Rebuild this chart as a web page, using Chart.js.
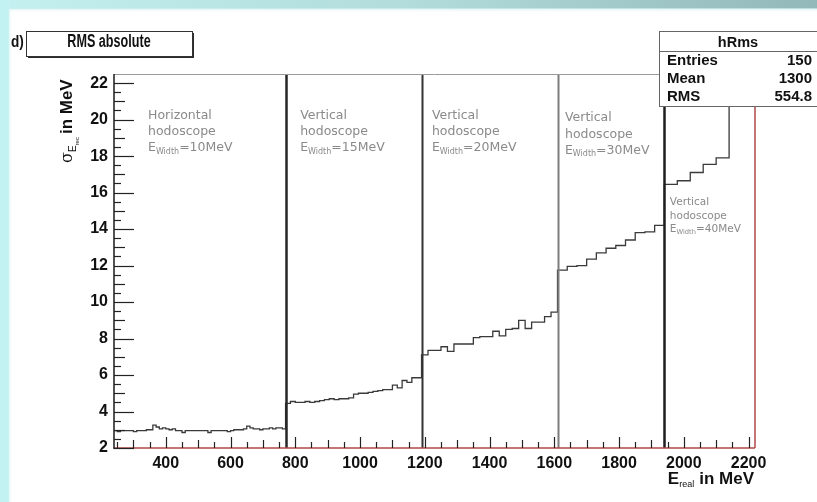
<!DOCTYPE html>
<html>
<head>
<meta charset="utf-8">
<script src="https://cdn.jsdelivr.net/npm/chart.js@4.4.1/dist/chart.umd.min.js"></script>
<style>
  html, body { margin: 0; padding: 0; background: #fff; overflow: hidden; }
  canvas { display: block; }
</style>
</head>
<body>
<canvas id="c" width="817" height="502"></canvas>
<script>
// hRms: RMS of the reconstructed energy (MeV) versus the true energy (MeV).
// The energy range is split into hodoscope regions, each with its own bin width.
const regionStart = [240, 770, 1190, 1610, 1940, 2140];
const regionWidth = [10, 15, 20, 30, 40, 40];
const regionName = ['Horizontal', 'Vertical', 'Vertical', 'Vertical', 'Vertical'];

const rmsHorizontal10 = [
  2.95, 2.9, 2.95, 2.95, 2.95, 2.95, 2.9, 2.95, 2.95, 2.95,
  3.0, 3.0, 3.25, 3.15, 3.05, 3.1, 3.05, 3.0, 3.05, 2.95,
  2.95, 2.85, 2.95, 2.95, 2.95, 2.95, 2.95, 2.95, 2.95, 2.85,
  2.95, 2.95, 2.95, 2.95, 2.95, 2.9, 2.95, 3.0, 3.0, 3.0,
  3.05, 3.2, 3.1, 3.05, 3.05, 3.0, 3.05, 3.05, 3.1, 3.05,
  3.1, 3.1, 3.05
];
const rmsVertical15 = [
  4.45, 4.55, 4.5, 4.5, 4.55, 4.5, 4.55,
  4.6, 4.65, 4.7, 4.65, 4.7, 4.7, 4.75,
  4.95, 5.0, 5.0, 5.05,
  5.1, 5.15, 5.2, 5.2,
  5.45, 5.3, 5.7, 5.6, 5.85, 5.85
];
const rmsVertical20 = [
  7.1, 7.35, 7.35, 7.55, 7.3, 7.7, 7.7, 7.7, 8.05, 8.1,
  8.1, 8.4, 8.15, 8.5, 8.55, 9.0, 8.55, 8.9, 8.9, 9.2, 9.45
];
const rmsVertical30 = [11.75, 11.95, 12.0, 12.35, 12.7, 12.95, 13.1, 13.4, 13.8, 13.85, 14.2];
const rmsVertical40 = [16.45, 16.65, 17.1, 17.55, 17.9];
const rmsAboveRange = [25.0, 28.0];

const xTickLabels = [400, 600, 800, 1000, 1200, 1400, 1600, 1800, 2000, 2200];
const yTickLabels = [2, 4, 6, 8, 10, 12, 14, 16, 18, 20, 22];

const statNames = ['Entries', 'Mean', 'RMS'];
const statValues = ['150', '1300', '554.8'];

// ---- histogram as a step line: one point per bin low edge, plus the last upper edge
const regionValues = [rmsHorizontal10, rmsVertical15, rmsVertical20, rmsVertical30, rmsVertical40, rmsAboveRange];
const histPoints = [];
regionValues.forEach((vals, r) => {
  vals.forEach((v, i) => histPoints.push({ x: regionStart[r] + i * regionWidth[r], y: v }));
});
{
  const r = regionValues.length - 1;
  const vals = regionValues[r];
  histPoints.push({ x: regionStart[r] + vals.length * regionWidth[r], y: vals[vals.length - 1] });
}
// separators sit at the start of every region after the first (the last one is the overflow tail)
const separators = regionStart.slice(1, 5);

// ---- styling
const sepStyle = [
  { color: '#262626', width: 2.5 },
  { color: '#333333', width: 2 },
  { color: '#7d7d7d', width: 2 },
  { color: '#1e1e1e', width: 2.5 }
];
// where the region notes sit, in axis units (x in MeV, y = first baseline in MeV)
const notePlace = [
  { x: 345, y: 20.05, size: 12.5, lead: 16.3 },
  { x: 815, y: 20.05, size: 12.5, lead: 16.3 },
  { x: 1222, y: 20.05, size: 12.5, lead: 16.3 },
  { x: 1633, y: 19.9, size: 12.5, lead: 16.3 },
  { x: 1957, y: 15.3, size: 10.5, lead: 13.5 }
];

function runs(ctx, x, y, parts) {
  // draws consecutive text pieces (with baseline shifts) starting at x
  let cx = x;
  parts.forEach(p => {
    ctx.font = p.font;
    ctx.fillText(p.t, cx, y + (p.dy || 0));
    cx += ctx.measureText(p.t).width + (p.gap || 0);
  });
  return cx;
}

const rootDecor = {
  id: 'rootDecor',
  beforeDraw(chart) {
    const ctx = chart.ctx;
    ctx.save();
    ctx.fillStyle = '#ffffff';
    ctx.fillRect(0, 0, chart.width, chart.height);
    // slide border: cyan band on the top and on the left
    const gTop = ctx.createLinearGradient(0, 0, chart.width, 0);
    gTop.addColorStop(0, '#c4f0f0');
    gTop.addColorStop(0.5, '#b2dcdc');
    gTop.addColorStop(1, '#93b8b9');
    ctx.fillStyle = gTop;
    ctx.fillRect(0, 0, chart.width, 9);
    const gTopFade = ctx.createLinearGradient(0, 8, 0, 13);
    gTopFade.addColorStop(0, 'rgba(200,235,235,0.8)');
    gTopFade.addColorStop(1, 'rgba(255,255,255,0)');
    ctx.fillStyle = gTopFade;
    ctx.fillRect(0, 8, chart.width, 5);
    ctx.fillStyle = '#c3f2f2';
    ctx.fillRect(0, 0, 9, chart.height);
    const gLeftFade = ctx.createLinearGradient(8, 0, 13, 0);
    gLeftFade.addColorStop(0, 'rgba(200,240,240,0.8)');
    gLeftFade.addColorStop(1, 'rgba(255,255,255,0)');
    ctx.fillStyle = gLeftFade;
    ctx.fillRect(8, 9, 5, chart.height);
    ctx.restore();
  },
  afterDatasetsDraw(chart) {
    const { ctx, chartArea: a, scales: { x, y } } = chart;
    const line = (x1, y1, x2, y2) => { ctx.beginPath(); ctx.moveTo(x1, y1); ctx.lineTo(x2, y2); ctx.stroke(); };
    ctx.save();

    // region separators
    separators.forEach((e, i) => {
      const px = Math.round(x.getPixelForValue(e)) + 0.5;
      ctx.strokeStyle = sepStyle[i].color;
      ctx.lineWidth = sepStyle[i].width;
      line(px, a.top, px, a.bottom);
    });

    // frame
    ctx.lineWidth = 1;
    ctx.strokeStyle = '#9a9a9a';
    line(a.left, a.top + 0.5, a.right, a.top + 0.5);
    ctx.strokeStyle = '#b04848';
    ctx.lineWidth = 1.5;
    line(a.right, a.top, a.right, a.bottom);
    line(a.left, a.bottom, a.right, a.bottom);
    ctx.strokeStyle = '#1a1a1a';
    ctx.lineWidth = 1.5;
    line(a.left, a.top, a.left, a.bottom + 1);

    // y ticks (inside the frame)
    ctx.strokeStyle = '#222';
    ctx.lineWidth = 1.2;
    for (let k = 4; k <= 44; k++) {
      const v = k / 2;
      const py = Math.round(y.getPixelForValue(v)) + 0.5;
      const len = (k % 4 === 0) ? 20 : (k % 2 === 0 ? 11 : 7);
      line(a.left, py, a.left + len, py);
    }
    // x ticks
    for (let v = 250; v <= 2200; v += 50) {
      const px = Math.round(x.getPixelForValue(v)) + 0.5;
      const len = (v % 200 === 0) ? 11 : (v % 100 === 0 ? 8 : 6);
      line(px, a.bottom, px, a.bottom - len);
    }

    // region notes
    ctx.fillStyle = '#8a8a8a';
    ctx.textAlign = 'left';
    ctx.textBaseline = 'alphabetic';
    notePlace.forEach((p, i) => {
      const px = x.getPixelForValue(p.x);
      const py = y.getPixelForValue(p.y);
      const f = s => s + 'px "DejaVu Sans", Verdana, sans-serif';
      ctx.font = f(p.size);
      ctx.fillText(regionName[i], px, py);
      ctx.fillText('hodoscope', px, py + p.lead);
      runs(ctx, px, py + 2 * p.lead, [
        { t: 'E', font: f(p.size) },
        { t: 'Width', font: f(p.size * 0.64), dy: p.size * 0.18 },
        { t: '=' + regionWidth[i] + 'MeV', font: f(p.size) }
      ]);
    });

    // title pave
    ctx.fillStyle = '#2a2a2a';
    ctx.fillRect(28, 33, 166, 25);
    ctx.fillStyle = '#ffffff';
    ctx.fillRect(26, 31, 166, 25);
    ctx.strokeStyle = '#333';
    ctx.lineWidth = 1;
    ctx.strokeRect(26.5, 31.5, 166, 25);
    ctx.fillStyle = '#111';
    ctx.save();
    ctx.translate(109, 47);
    ctx.scale(0.7, 1);
    ctx.textAlign = 'center';
    ctx.font = 'bold 18px "Liberation Sans", Arial, sans-serif';
    ctx.fillText('RMS absolute', 0, 0);
    ctx.restore();
    ctx.textAlign = 'left';
    ctx.save();
    ctx.translate(11, 47);
    ctx.scale(0.85, 1);
    ctx.font = 'bold 16px "Liberation Sans", Arial, sans-serif';
    ctx.fillText('d)', 0, 0);
    ctx.restore();

    // statistics box
    const bx = 659, by = 31, bw = 160, bh = 75;
    ctx.fillStyle = '#ffffff';
    ctx.fillRect(bx, by, bw, bh);
    ctx.strokeStyle = '#666';
    ctx.lineWidth = 1;
    ctx.strokeRect(bx + 0.5, by + 0.5, bw, bh);
    line(bx, 51.5, bx + bw, 51.5);
    ctx.fillStyle = '#111';
    ctx.font = 'bold 14.5px "Liberation Sans", Arial, sans-serif';
    ctx.textAlign = 'center';
    ctx.fillText('hRms', 738, 47);
    const rowY = [65, 83, 101];
    statNames.forEach((n, i) => {
      ctx.font = 'bold 15px "Liberation Sans", Arial, sans-serif';
      ctx.textAlign = 'left';
      ctx.fillText(n, 667, rowY[i]);
      ctx.textAlign = 'right';
      ctx.fillText(statValues[i], 812, rowY[i]);
    });

    // axis titles
    ctx.textAlign = 'left';
    ctx.fillStyle = '#111';
    ctx.save();
    ctx.translate(72, 163);
    ctx.rotate(-Math.PI / 2);
    runs(ctx, 0, 0, [
      { t: 'σ', font: '16px "DejaVu Serif", serif' },
      { t: 'E', font: '10px "Liberation Sans", Arial, sans-serif', dy: 4 },
      { t: 'rec', font: '6px "Liberation Sans", Arial, sans-serif', dy: 7, gap: 3 },
      { t: 'in MeV', font: 'bold 17px "Liberation Sans", Arial, sans-serif' }
    ]);
    ctx.restore();

    ctx.font = 'bold 17px "Liberation Sans", Arial, sans-serif';
    const tail = 'in MeV';
    const wTail = ctx.measureText(tail).width;
    ctx.font = '9px "Liberation Sans", Arial, sans-serif';
    const wSub = ctx.measureText('real').width;
    ctx.font = 'bold 17px "Liberation Sans", Arial, sans-serif';
    const wE = ctx.measureText('E').width;
    const startX = 754 - wTail - 5 - wSub - wE;
    runs(ctx, startX, 484, [
      { t: 'E', font: 'bold 17px "Liberation Sans", Arial, sans-serif' },
      { t: 'real', font: '9px "Liberation Sans", Arial, sans-serif', dy: 3, gap: 5 },
      { t: tail, font: 'bold 17px "Liberation Sans", Arial, sans-serif' }
    ]);

    ctx.restore();
  }
};

Chart.defaults.font.family = '"Liberation Sans", Arial, sans-serif';

new Chart(document.getElementById('c'), {
  type: 'line',
  data: {
    datasets: [{
      data: histPoints,
      stepped: true,
      borderColor: '#3a3a3a',
      borderWidth: 1.3,
      pointRadius: 0,
      fill: false
    }]
  },
  options: {
    responsive: false,
    animation: false,
    devicePixelRatio: 1,
    layout: { padding: { top: 74, right: 62, left: 0, bottom: 0 } },
    plugins: { legend: { display: false }, tooltip: { enabled: false } },
    scales: {
      x: {
        type: 'linear',
        min: regionStart[0],
        max: 2220,
        grid: { display: false, drawTicks: false },
        border: { display: false },
        afterBuildTicks: s => { s.ticks = xTickLabels.map(v => ({ value: v })); },
        afterFit: s => { s.height = 54; },
        ticks: {
          autoSkip: false, maxRotation: 0, padding: 6, color: '#111',
          font: { size: 16, weight: 'bold' },
          callback: v => String(v)
        }
      },
      y: {
        type: 'linear',
        min: 2,
        max: 22.5,
        grid: { display: false, drawTicks: false },
        border: { display: false },
        afterBuildTicks: s => { s.ticks = yTickLabels.map(v => ({ value: v })); },
        afterFit: s => { s.width = 114; },
        ticks: {
          autoSkip: false, padding: 6, color: '#111',
          font: { size: 16, weight: 'bold' },
          callback: v => String(v)
        }
      }
    }
  },
  plugins: [rootDecor]
});
</script>
</body>
</html>
